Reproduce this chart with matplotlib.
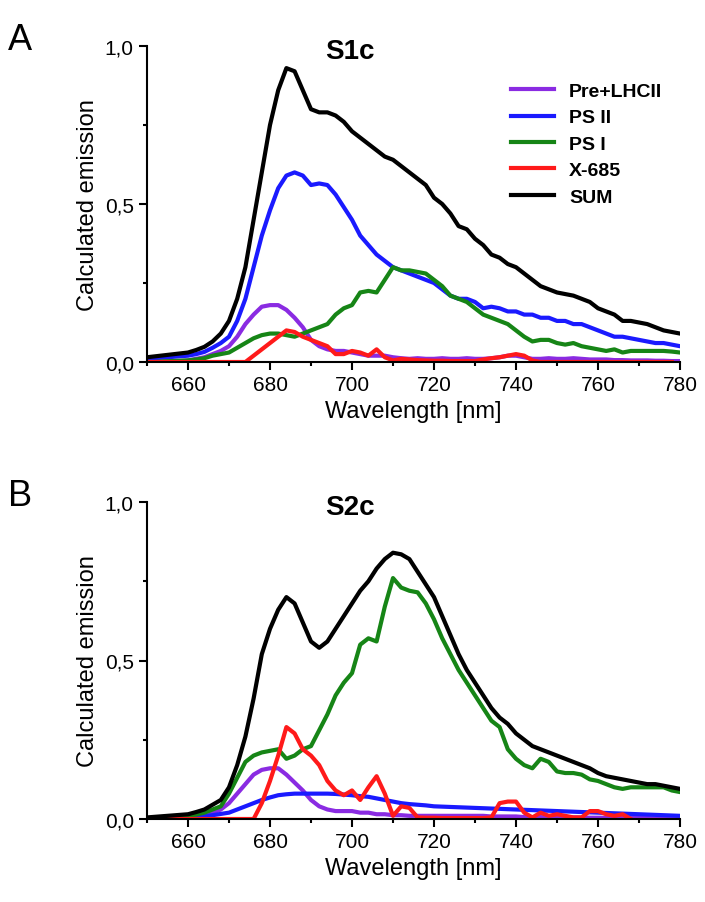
import numpy as np
from matplotlib import pyplot as plt
from matplotlib.ticker import MultipleLocator, FuncFormatter

plt.rcParams["font.family"] = ["Liberation Sans", "DejaVu Sans"]

wl = list(range(650, 782, 2))

# panel A (S1c)
a_sum = [0.015, 0.018, 0.021, 0.024, 0.027, 0.03, 0.038, 0.048, 0.065, 0.09, 0.13, 0.2, 0.3, 0.45, 0.6, 0.75,
         0.86, 0.93, 0.92, 0.86, 0.8, 0.79, 0.79, 0.78, 0.76, 0.73, 0.71, 0.69, 0.67, 0.65, 0.64, 0.62, 0.6,
         0.58, 0.56, 0.52, 0.5, 0.47, 0.43, 0.42, 0.39, 0.37, 0.34, 0.33, 0.31, 0.3, 0.28, 0.26, 0.24, 0.23,
         0.22, 0.215, 0.21, 0.2, 0.19, 0.17, 0.16, 0.15, 0.13, 0.13, 0.125, 0.12, 0.11, 0.1, 0.095, 0.09]
a_ps2 = [0.01, 0.012, 0.014, 0.016, 0.018, 0.02, 0.025, 0.032, 0.045, 0.06, 0.08, 0.13, 0.2, 0.3, 0.4, 0.48,
         0.55, 0.59, 0.6, 0.59, 0.56, 0.565, 0.56, 0.53, 0.49, 0.45, 0.4, 0.37, 0.34, 0.32, 0.3, 0.29, 0.28,
         0.27, 0.26, 0.25, 0.23, 0.21, 0.2, 0.2, 0.19, 0.17, 0.175, 0.17, 0.16, 0.16, 0.15, 0.15, 0.14, 0.14,
         0.13, 0.13, 0.12, 0.12, 0.11, 0.1, 0.09, 0.08, 0.08, 0.075, 0.07, 0.065, 0.06, 0.06, 0.055, 0.05]
a_ps1 = [0.0, 0.0, 0.002, 0.003, 0.004, 0.005, 0.008, 0.012, 0.02, 0.025, 0.03, 0.045, 0.06, 0.075, 0.085, 0.09,
         0.09, 0.085, 0.08, 0.09, 0.1, 0.11, 0.12, 0.15, 0.17, 0.18, 0.22, 0.225, 0.22, 0.26, 0.3, 0.29, 0.29,
         0.285, 0.28, 0.26, 0.24, 0.21, 0.2, 0.19, 0.17, 0.15, 0.14, 0.13, 0.12, 0.1, 0.08, 0.065, 0.07, 0.07,
         0.06, 0.055, 0.06, 0.05, 0.045, 0.04, 0.035, 0.04, 0.03, 0.035, 0.035, 0.035, 0.035, 0.035, 0.033, 0.03]
a_pre = [0.0, 0.0, 0.001, 0.002, 0.003, 0.005, 0.01, 0.015, 0.025, 0.035, 0.05, 0.08, 0.12, 0.15, 0.175, 0.18,
         0.18, 0.165, 0.14, 0.11, 0.07, 0.05, 0.04, 0.035, 0.035, 0.03, 0.025, 0.02, 0.02, 0.02, 0.015, 0.012,
         0.01, 0.012, 0.01, 0.01, 0.012, 0.01, 0.01, 0.012, 0.01, 0.01, 0.012, 0.015, 0.02, 0.02, 0.015, 0.01,
         0.01, 0.012, 0.01, 0.01, 0.012, 0.01, 0.008, 0.008, 0.008, 0.006, 0.006, 0.005, 0.005, 0.005, 0.004,
         0.004, 0.003, 0.003]
a_x685 = [0.0] * 13 + [0.02, 0.04, 0.06, 0.08, 0.1, 0.095, 0.08, 0.07, 0.06, 0.05, 0.025, 0.025, 0.035, 0.03,
          0.02, 0.04, 0.015, 0.005, 0.01, 0.008, 0.006, 0.005, 0.004, 0.004, 0.003, 0.003, 0.003, 0.003, 0.008,
          0.012, 0.015, 0.02, 0.025, 0.02, 0.005] + [0.0] * 17

# panel B (S2c)
b_sum = [0.005, 0.007, 0.009, 0.011, 0.013, 0.015, 0.022, 0.03, 0.045, 0.06, 0.1, 0.17, 0.26, 0.38, 0.52, 0.6,
         0.66, 0.7, 0.68, 0.62, 0.56, 0.54, 0.56, 0.6, 0.64, 0.68, 0.72, 0.75, 0.79, 0.82, 0.84, 0.835, 0.82,
         0.78, 0.74, 0.7, 0.64, 0.58, 0.52, 0.47, 0.43, 0.39, 0.35, 0.32, 0.3, 0.27, 0.25, 0.23, 0.22, 0.21,
         0.2, 0.19, 0.18, 0.17, 0.16, 0.145, 0.135, 0.13, 0.125, 0.12, 0.115, 0.11, 0.11, 0.105, 0.1, 0.095]
b_ps1 = [0.0, 0.001, 0.002, 0.004, 0.006, 0.01, 0.014, 0.02, 0.03, 0.04, 0.08, 0.13, 0.18, 0.2, 0.21, 0.215,
         0.22, 0.19, 0.2, 0.22, 0.23, 0.28, 0.33, 0.39, 0.43, 0.46, 0.55, 0.57, 0.56, 0.67, 0.76, 0.73, 0.72,
         0.715, 0.68, 0.63, 0.57, 0.52, 0.47, 0.43, 0.39, 0.35, 0.31, 0.29, 0.22, 0.19, 0.17, 0.16, 0.19, 0.18,
         0.15, 0.145, 0.145, 0.14, 0.125, 0.12, 0.11, 0.1, 0.095, 0.1, 0.1, 0.1, 0.1, 0.1, 0.09, 0.085]
b_pre = [0.0, 0.0, 0.001, 0.002, 0.003, 0.005, 0.008, 0.012, 0.02, 0.03, 0.05, 0.08, 0.11, 0.14, 0.155, 0.16,
         0.16, 0.14, 0.115, 0.09, 0.06, 0.04, 0.03, 0.025, 0.025, 0.025, 0.02, 0.02, 0.015, 0.015, 0.012, 0.012,
         0.01, 0.01, 0.01, 0.01, 0.01, 0.01, 0.01, 0.01, 0.01, 0.01, 0.008, 0.008, 0.008, 0.008, 0.006, 0.006,
         0.006, 0.005, 0.005, 0.005, 0.005, 0.005, 0.004, 0.004, 0.004, 0.004, 0.003, 0.003, 0.003, 0.003,
         0.002, 0.002, 0.002, 0.002]
b_ps2 = [0.002, 0.003, 0.003, 0.004, 0.004, 0.005, 0.007, 0.009, 0.012, 0.016, 0.02, 0.03, 0.04, 0.05, 0.06,
         0.068, 0.075, 0.078, 0.08, 0.08, 0.08, 0.08, 0.08, 0.079, 0.077, 0.075, 0.072, 0.07, 0.065, 0.06, 0.055,
         0.05, 0.047, 0.045, 0.043, 0.04, 0.039, 0.038, 0.037, 0.036, 0.035, 0.034, 0.033, 0.032, 0.031, 0.03,
         0.029, 0.028, 0.027, 0.026, 0.025, 0.024, 0.023, 0.022, 0.021, 0.02, 0.019, 0.018, 0.017, 0.016, 0.015,
         0.014, 0.013, 0.012, 0.011, 0.01]
b_x685 = [0.0] * 14 + [0.05, 0.12, 0.2, 0.29, 0.27, 0.22, 0.2, 0.17, 0.12, 0.09, 0.075, 0.09, 0.06, 0.1, 0.135,
          0.08, 0.01, 0.04, 0.035, 0.005, 0.004, 0.004, 0.003, 0.003, 0.003, 0.003, 0.003, 0.003, 0.005, 0.05,
          0.055, 0.055, 0.02, 0.005, 0.02, 0.01, 0.015, 0.01, 0.005, 0.005, 0.025, 0.025, 0.015, 0.01, 0.015, 0.0]

names = ["Pre+LHCII", "PS II", "PS I", "X-685", "SUM"]
colors = ["#8a2be2", "#1a1aff", "#168516", "#ff1a1a", "#000000"]

fig = plt.figure(figsize=(7.05, 9.03), dpi=100)
ax_a = fig.add_axes([147 / 705, 1 - 363 / 903, 533 / 705, 316 / 903])
ax_b = fig.add_axes([147 / 705, 1 - 820 / 903, 533 / 705, 317 / 903])

panels = [
    (ax_a, "S1c", "A", [a_pre, a_ps2, a_ps1, a_x685, a_sum]),
    (ax_b, "S2c", "B", [b_pre, b_ps2, b_ps1, b_x685, b_sum]),
]
comma = FuncFormatter(lambda v, p: f"{v:.1f}".replace(".", ","))
for ax, title, letter, series in panels:
    for y, name, c in zip(series, names, colors):
        ax.plot(wl[:len(y)], y, color=c, lw=3, label=name)
    ax.set_xlim(650, 780)
    ax.set_ylim(0, 1.0)
    ax.xaxis.set_major_locator(MultipleLocator(20))
    ax.xaxis.set_minor_locator(MultipleLocator(10))
    ax.yaxis.set_major_locator(MultipleLocator(0.5))
    ax.yaxis.set_minor_locator(MultipleLocator(0.25))
    ax.yaxis.set_major_formatter(comma)
    ax.spines[["top", "right"]].set_visible(False)
    ax.spines[["left", "bottom"]].set_linewidth(1.5)
    ax.tick_params(which="major", length=6, width=1.5, labelsize=15)
    ax.tick_params(which="minor", length=3, width=1.5)
    ax.set_xlabel("Wavelength [nm]", fontsize=17)
    ax.set_ylabel("Calculated emission", fontsize=17)
    ax.text(0.38, 0.985, title, transform=ax.transAxes, fontsize=20, fontweight="bold", ha="center", va="center")
    ax.text(-0.26, 1.02, letter, transform=ax.transAxes, fontsize=26, ha="left", va="center")

ax_a.legend(loc="upper right", bbox_to_anchor=(1.0, 0.94), frameon=False, handlelength=2.2,
            prop={"weight": "bold", "size": 14}, labelspacing=0.45)

fig.savefig("out.png")
plt.close()
